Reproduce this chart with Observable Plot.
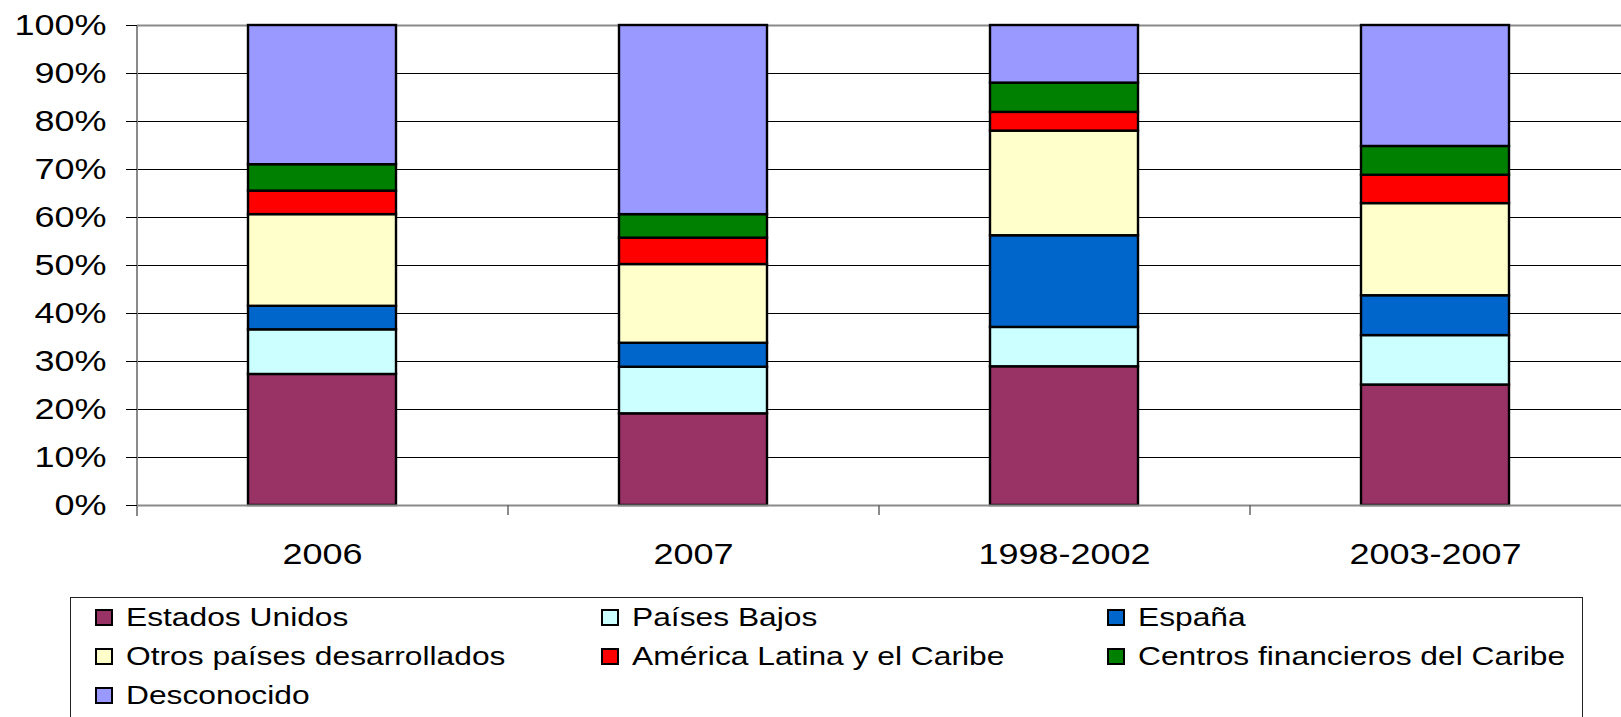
<!DOCTYPE html>
<html>
<head>
<meta charset="utf-8">
<script src="https://cdn.jsdelivr.net/npm/d3@7"></script>
<script src="https://cdn.jsdelivr.net/npm/@observablehq/plot@0.6"></script>
<style>
  html, body { margin: 0; padding: 0; background: #fff; }
  body { width: 1621px; height: 717px; overflow: hidden; position: relative; font-family: "Liberation Sans", Arial, sans-serif; }
  #chart { position: absolute; left: 0; top: 0; }
  #legend { position: absolute; left: 70px; top: 597px; width: 1513px; height: 150px; border: 1px solid #222; box-sizing: border-box; background: #fff; }
  .item { position: absolute; height: 40px; display: flex; align-items: center; white-space: nowrap; }
  .sw { width: 14px; height: 13px; border: 2px solid #000; margin-right: 13px; flex: none; }
  .lbl { display: inline-block; font-size: 25px; color: #000; transform: scaleX(1.27); transform-origin: left center; }
</style>
</head>
<body>
<div id="chart"></div>
<div id="legend"></div>
<script>
const categories = ["2006", "2007", "1998-2002", "2003-2007"];
const series = ["Estados Unidos", "Países Bajos", "España", "Otros países desarrollados", "América Latina y el Caribe", "Centros financieros del Caribe", "Desconocido"];
const colors = ["#993366", "#CCFFFF", "#0066CC", "#FFFFCC", "#FF0000", "#008000", "#9999FF"];
const estadosUnidos = [27.3, 19.1, 28.9, 25.1];
const paisesBajos   = [9.3, 9.7, 8.2, 10.3];
const espana        = [4.9, 5.0, 19.1, 8.3];
const otrosPaises   = [19.1, 16.4, 21.8, 19.2];
const americaLatina = [4.9, 5.5, 3.9, 5.9];
const centrosFin    = [5.5, 4.9, 6.1, 6.0];
const desconocido   = [29.0, 39.4, 12.0, 25.2];
const yTicks = [0, 10, 20, 30, 40, 50, 60, 70, 80, 90, 100];

const seriesValues = [estadosUnidos, paisesBajos, espana, otrosPaises, americaLatina, centrosFin, desconocido];
const data = [];
series.forEach((s, si) => categories.forEach((c, ci) => data.push({category: c, series: s, value: seriesValues[si][ci]})));

const W = 1621, H = 597, ML = 137, MR = 0;
const step = (W - ML - MR) / categories.length;

const plot = Plot.plot({
  width: W, height: H,
  marginLeft: ML, marginRight: MR, marginTop: 25, marginBottom: 92,
  style: {fontFamily: '"Liberation Sans", Arial, sans-serif', fontSize: "30px", color: "#000", background: "#fff", overflow: "visible"},
  x: {domain: categories, paddingInner: 0.6, paddingOuter: 0.3, label: null},
  y: {domain: [0, 100], label: null},
  color: {domain: series, range: colors},
  marks: [
    Plot.ruleY(yTicks.filter(d => d > 0 && d < 100), {y: d => d, stroke: "#000", strokeWidth: 1}),
    Plot.ruleY([100], {y: d => d, stroke: "#8a8a8a", strokeWidth: 2}),
    Plot.barY(data, {x: "category", y: "value", fill: "series", stroke: "#000", strokeWidth: 2.4, order: series}),
    Plot.ruleY([0], {y: d => d, stroke: "#8a8a8a", strokeWidth: 2}),
    Plot.ruleX([categories[0]], {x: d => d, dx: -step / 2, y1: -2.3, y2: 100, stroke: "#8a8a8a", strokeWidth: 2}),
    Plot.ruleX(categories.slice(1), {x: d => d, dx: -step / 2, y1: 0, y2: -2.1, stroke: "#666", strokeWidth: 1.5}),
    Plot.axisY({ticks: yTicks, tickFormat: d => d + "%", tickSize: 11, tickPadding: 20, label: null, stroke: "#000"}),
    Plot.axisX({tickSize: 0, tickPadding: 37, label: null})
  ]
});
document.getElementById("chart").appendChild(plot);

// widen text to match the stretched original
plot.querySelectorAll("text").forEach(t => {
  const tr = t.getAttribute("transform") || "";
  t.setAttribute("transform", tr + " scale(1.2,1)");
});

// legend
const legend = document.getElementById("legend");
series.forEach((s, i) => {
  const col = i % 3, row = Math.floor(i / 3);
  const item = document.createElement("div");
  item.className = "item";
  item.style.left = (24 + col * 506) + "px";
  item.style.top = (-1 + row * 39) + "px";
  const sw = document.createElement("span");
  sw.className = "sw";
  sw.style.background = colors[i];
  const lbl = document.createElement("span");
  lbl.className = "lbl";
  lbl.textContent = s;
  item.appendChild(sw);
  item.appendChild(lbl);
  legend.appendChild(item);
});
</script>
</body>
</html>
